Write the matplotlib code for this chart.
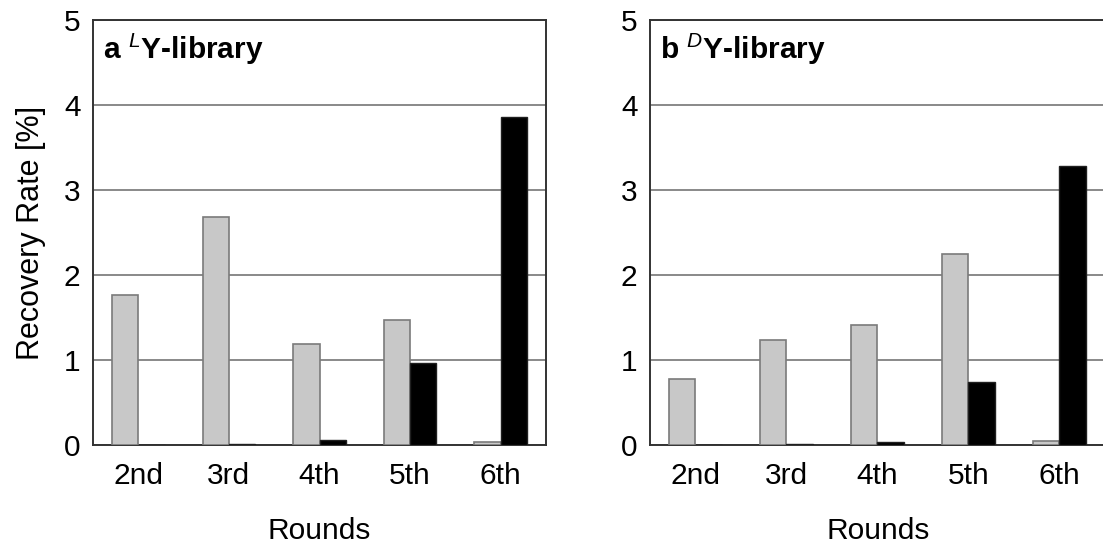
import numpy as np
import matplotlib
matplotlib.use("Agg")
import matplotlib.pyplot as plt

plt.rcParams['font.family'] = ['Liberation Sans', 'DejaVu Sans']
plt.rcParams['mathtext.fontset'] = 'custom'
plt.rcParams['mathtext.rm'] = 'Liberation Sans'
plt.rcParams['mathtext.it'] = 'Liberation Sans:italic'
plt.rcParams['mathtext.bf'] = 'Liberation Sans:bold'

rounds = ['2nd', '3rd', '4th', '5th', '6th']

# a: L-library
l_gray = [1.77, 2.68, 1.19, 1.47, 0.04]
l_black = [0.005, 0.01, 0.06, 0.97, 3.86]

# b: D-library
d_gray = [0.78, 1.23, 1.41, 2.25, 0.05]
d_black = [0.003, 0.01, 0.04, 0.74, 3.28]

titles = [r'a $^{L}$Y-library', r'b $^{D}$Y-library']

GRAY = '#c8c8c8'
EDGE = '#7a7a7a'
W = 0.29
FS = 21.5

fig = plt.figure(figsize=(11.03, 5.5), dpi=100)
W_PX, H_PX = 1103, 550

# axes boxes in pixels: left, top, width, height
boxes = [(93, 20, 453, 425), (650, 20, 456, 425)]
data = [(l_gray, l_black), (d_gray, d_black)]

for i, (box, (g, b)) in enumerate(zip(boxes, data)):
    x0, y0, w, h = box
    ax = fig.add_axes([x0 / W_PX, 1 - (y0 + h) / H_PX, w / W_PX, h / H_PX])
    x = np.arange(len(rounds))
    ax.bar(x - W / 2, g, W, color=GRAY, edgecolor=EDGE, linewidth=1.2, zorder=3)
    ax.bar(x + W / 2, b, W, color='black', edgecolor='#202020', linewidth=1.0, zorder=3)

    ax.set_xlim(-0.5, len(rounds) - 0.5 + (0.0 if i == 0 else 0.015))
    ax.set_ylim(0, 5)
    ax.set_yticks(range(6))
    ax.set_xticks(x)
    ax.set_xticklabels(rounds)
    ax.tick_params(axis='both', length=0, labelsize=FS)
    ax.tick_params(axis='x', pad=12)
    ax.tick_params(axis='y', pad=9)
    ax.yaxis.grid(True, color='#808080', linewidth=1.3, zorder=0)
    ax.set_axisbelow(True)
    for s in ax.spines.values():
        s.set_color('#333333')
        s.set_linewidth(1.4)

    ax.set_xlabel('Rounds', fontsize=FS, labelpad=20)
    if i == 0:
        ax.set_ylabel('Recovery Rate [%]', fontsize=22, labelpad=13)

    ax.text(0.022, 0.972, titles[i], transform=ax.transAxes, fontsize=21.5,
            fontweight='bold', va='top', ha='left')

fig.savefig('out.png', dpi=100)
